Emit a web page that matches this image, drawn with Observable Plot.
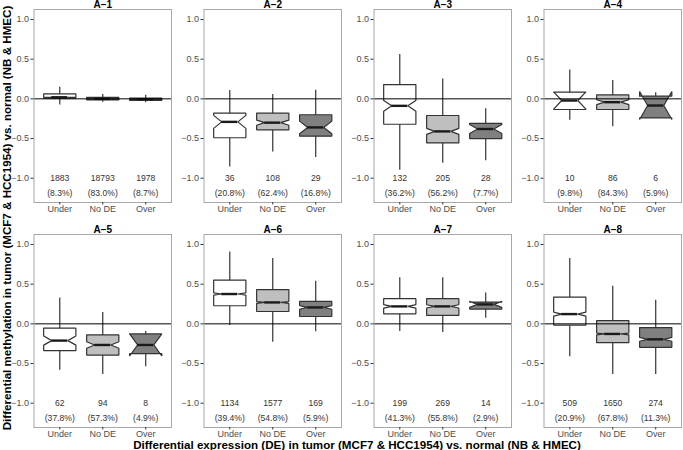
<!DOCTYPE html>
<html><head><meta charset="utf-8">
<script src="https://cdn.jsdelivr.net/npm/d3@7"></script>
<script src="https://cdn.jsdelivr.net/npm/@observablehq/plot@0.6"></script>
<style>
body{margin:0;background:#fff;font-family:"Liberation Sans",Arial,Helvetica,sans-serif;}
#wrap{position:relative;width:683px;height:450px;overflow:hidden;background:#fff;}
.panel{position:absolute;}
#xtitle{position:absolute;left:0;width:714px;top:440px;line-height:9px;text-align:center;font-weight:bold;font-size:11.6px;color:#000;white-space:nowrap;}
#ytitle{position:absolute;left:7px;top:218px;line-height:12px;transform:translate(-50%,-50%) rotate(-90deg);font-weight:bold;font-size:11.6px;color:#000;white-space:nowrap;}
</style></head><body>
<div id="wrap"><div id="xtitle">Differential expression (DE) in tumor (MCF7 &amp; HCC1954) vs. normal (NB &amp; HMEC)</div><div id="ytitle">Differential methylation in tumor (MCF7 &amp; HCC1954) vs. normal (NB &amp; HMEC)</div></div>
<script>
const panels = ["A\u22121","A\u22122","A\u22123","A\u22124","A\u22125","A\u22126","A\u22127","A\u22128"];
const categories = ["Under","No DE","Over"];
const fills = ["#ffffff","#bfbfbf","#808080"];
const yTicks = [-1, -0.5, 0, 0.5, 1];

const whiskerLow = [
  [-0.076,-0.043,-0.05],[-0.86,-0.67,-0.74],[-0.90,-0.81,-0.78],[-0.27,-0.35,-0.245],
  [-0.584,-0.638,-0.54],[-0.021,-0.233,-0.10],[-0.097,-0.11,0.072],[-0.414,-0.638,-0.638]
];
const lower = [
  [0.008,-0.013,-0.018],[-0.49,-0.39,-0.47],[-0.32,-0.555,-0.50],[-0.134,-0.134,-0.24],
  [-0.338,-0.393,-0.376],[0.228,0.156,0.093],[0.127,0.106,0.186],[-0.017,-0.237,-0.296]
];
const middle = [
  [0.02,0.0,-0.004],[-0.29,-0.30,-0.36],[-0.088,-0.41,-0.38],[-0.021,-0.042,-0.084],
  [-0.211,-0.266,-0.266],[0.376,0.27,0.207],[0.22,0.22,0.245],[0.123,-0.127,-0.195]
];
const upper = [
  [0.063,0.018,0.01],[-0.18,-0.18,-0.20],[0.18,-0.21,-0.31],[0.084,0.05,0.034],
  [-0.055,-0.14,-0.127],[0.55,0.431,0.283],[0.317,0.317,0.275],[0.338,0.042,-0.047]
];
const whiskerHigh = [
  [0.146,0.055,0.045],[0.105,0.055,0.11],[0.56,0.25,-0.126],[0.365,0.23,0.076],
  [0.326,0.144,-0.097],[0.905,0.825,0.537],[0.58,0.58,0.389],[0.825,0.474,0.296]
];
const counts = [
  [1883,18793,1978],[36,108,29],[132,205,28],[10,86,6],
  [62,94,8],[1134,1577,169],[199,269,14],[509,1650,274]
];
const percents = [
  [8.3,83.0,8.7],[20.8,62.4,16.8],[36.2,56.2,7.7],[9.8,84.3,5.9],
  [37.8,57.3,4.9],[39.4,54.8,5.9],[41.3,55.8,2.9],[20.9,67.8,11.3]
];

const wrap = document.getElementById("wrap");
const HW = 0.375, IND = 0.1875;

panels.forEach((title, p) => {
  const rows = categories.map((c, i) => {
    const iqr = upper[p][i] - lower[p][i];
    const nh = 1.58 * iqr / Math.sqrt(counts[p][i]);
    return {cat: c, x: i + 1, ymin: whiskerLow[p][i], lo: lower[p][i], mid: middle[p][i],
      up: upper[p][i], ymax: whiskerHigh[p][i], nlo: middle[p][i] - nh, nup: middle[p][i] + nh,
      n: counts[p][i], pct: "(" + percents[p][i].toFixed(1) + "%)"};
  });
  const poly = rows.flatMap(r => [
    [r.x - HW, r.up], [r.x - HW, r.nup], [r.x - HW + IND, r.mid], [r.x - HW, r.nlo], [r.x - HW, r.lo],
    [r.x + HW, r.lo], [r.x + HW, r.nlo], [r.x + HW - IND, r.mid], [r.x + HW, r.nup], [r.x + HW, r.up],
    [r.x - HW, r.up]
  ].map(([x, y]) => ({cat: r.cat, x, y})));

  const chart = Plot.plot({
    width: 172, height: 217,
    marginLeft: 33.5, marginRight: 1, marginTop: 9, marginBottom: 15,
    style: {background: "transparent", overflow: "visible", fontFamily: '"Liberation Sans",Arial,sans-serif', fontSize: "9px", color: "#4d4d4d"},
    x: {domain: [0.4, 3.6]},
    y: {domain: [-1.306, 1.126]},
    color: {domain: categories, range: fills},
    marks: [
      Plot.ruleX(rows, {x: "x", y1: "ymin", y2: "ymax", stroke: "#333333", strokeWidth: 1.2}),
      Plot.line(poly, {x: "x", y: "y", z: "cat", fill: "cat", stroke: "#333333", strokeWidth: 1.2, strokeLinejoin: "miter"}),
      Plot.ruleY(rows, {y: "mid", x1: d => d.x - IND, x2: d => d.x + IND, stroke: "#1a1a1a", strokeWidth: 2.4}),
      Plot.ruleY([0], {stroke: "#000", strokeWidth: 1}),
      Plot.text(rows, {x: "x", y: () => -1.0, text: d => String(d.n), fontSize: 8.6, fill: "#333333"}),
      Plot.text(rows, {x: "x", y: () => -1.19, text: "pct", fontSize: 8.6, fill: "#333333"}),
      Plot.frame({stroke: "#a8a8a8", strokeWidth: 1}),
      Plot.axisY({ticks: yTicks, tickSize: 3, tickPadding: 2, tickFormat: d3.format(".1f"), label: null, stroke: "#333333"}),
      Plot.axisX({ticks: [1, 2, 3], tickSize: 2.5, tickPadding: 0.5, tickFormat: d => categories[d - 1], label: null, stroke: "#333333"}),
      Plot.text([title], {frameAnchor: "top", dy: -5, text: d => d, fontWeight: "bold", fontSize: 10, fill: "#000", lineAnchor: "middle"})
    ]
  });
  const div = document.createElement("div");
  div.className = "panel";
  div.style.left = (170 * (p % 4)) + "px";
  div.style.top = (p < 4 ? 0 : 225) + "px";
  div.appendChild(chart);
  wrap.appendChild(div);
});
</script>
</body></html>
